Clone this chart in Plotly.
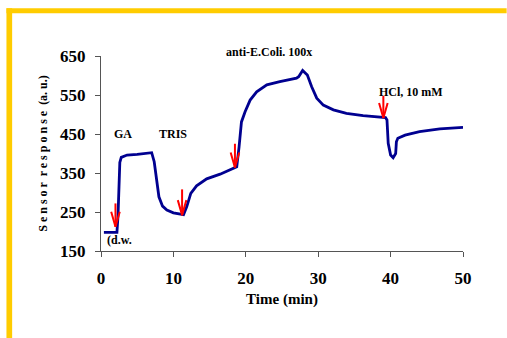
import plotly.graph_objects as go

# Sensor trace (time in min, response in a.u.)
time_min = [0.4, 2.2, 2.35, 2.5, 2.6, 2.8, 3.6, 5.0, 7.0, 7.35, 7.7, 8.0, 8.5, 9.1, 10.0, 11.0, 11.4,
            11.85, 12.4, 13.2, 14.6, 16.45, 18.3, 18.75, 19.07, 19.4, 19.9, 20.6, 21.5, 22.9, 24.7,
            27.0, 27.3, 27.85, 28.5, 29.1, 29.8, 30.7, 32.1, 33.9, 36.2, 38.5, 39.3,
            39.5, 39.67, 40.0, 40.35, 40.7, 40.8, 41.0, 42.0, 44.0, 46.8, 50.0]
response = [198, 198, 240, 337, 377, 390, 396, 398, 402, 379, 332, 289, 265, 255, 248, 245, 243,
            264, 298, 317, 335, 347, 362, 366, 417, 481, 507, 537, 558, 576, 584,
            593, 597, 613, 601, 571, 542, 524, 512, 503, 497, 493, 492,
            486, 426, 396, 389, 400, 430, 439, 447, 456, 463, 467]

# Injection arrows (time, top value, tip value)
arrow_t = [2.0, 11.2, 18.5, 39.0]
arrow_top = [272, 308, 425, 548]
arrow_tip = [212, 242, 364, 491]

# Labels (anchor value, extra upward shift in px for labels above the axis range)
label_text = ["GA", "TRIS", "anti-E.Coli. 100x", "HCl, 10 mM", "(d.w."]
label_t = [3.1, 10.0, 23.2, 42.8, 2.5]
label_y = [450, 450, 640, 558, 178]
label_shift = [0, 0, 8, 0, 0]

x_ticks = [0, 10, 20, 30, 40, 50]
y_ticks = [150, 250, 350, 450, 550, 650]

W, H = 507, 338
ML, MR, MT, MB = 100.7, 43.7, 56, 87
PW, PH = W - ML - MR, H - MT - MB
XMIN, XMAX, YMIN, YMAX = 0, 50, 150, 650

fig = go.Figure()
fig.add_trace(go.Scatter(x=time_min, y=response, mode="lines",
                         line=dict(color="#000090", width=2.8), hoverinfo="skip", showlegend=False))

# arrows drawn as shaft + open V head
arm_dx = 4.3 / PW * (XMAX - XMIN)
arm_dy = 15 / PH * (YMAX - YMIN)
ax, ay = [], []
for t, top, tip in zip(arrow_t, arrow_top, arrow_tip):
    ax += [t, t, None, t - arm_dx, t, t + arm_dx, None]
    ay += [top, tip, None, tip + arm_dy, tip, tip + arm_dy, None]
fig.add_trace(go.Scatter(x=ax, y=ay, mode="lines", line=dict(color="#FF0000", width=2),
                         hoverinfo="skip", showlegend=False))

for txt, t, y, s in zip(label_text, label_t, label_y, label_shift):
    fig.add_annotation(x=t, y=y, yshift=s, text=f"<b>{txt}</b>", showarrow=False,
                       font=dict(family="Liberation Serif", size=12, color="#000000"))

# yellow frame (top and left bars)
def px_x(p):
    return (p - ML) / PW
def px_y(p):
    return 1 - (p - MT) / PH
fig.add_shape(type="rect", xref="paper", yref="paper", x0=px_x(6), x1=px_x(507), y0=px_y(13.3), y1=px_y(8.3),
              fillcolor="#FFCC00", line=dict(width=0), layer="below")
fig.add_shape(type="rect", xref="paper", yref="paper", x0=px_x(6), x1=px_x(11.7), y0=px_y(338), y1=px_y(8.3),
              fillcolor="#FFCC00", line=dict(width=0), layer="below")

axis_font = dict(family="Liberation Serif", size=17, color="#000000")
fig.update_xaxes(range=[XMIN, XMAX], tickvals=x_ticks, ticktext=[f"<b>{v}</b>" for v in x_ticks],
                 showgrid=False, zeroline=False, showline=True, linecolor="#555555", linewidth=1,
                 ticks="outside", ticklen=5, tickcolor="#555555", tickfont=axis_font,
                 ticklabelstandoff=7,
                 title=dict(text="<b>Time (min)</b>", font=dict(family="Liberation Serif", size=15, color="#000"),
                            standoff=6))
fig.update_yaxes(range=[YMIN, YMAX], tickvals=y_ticks, ticktext=[f"<b>{v}</b>" for v in y_ticks],
                 showgrid=False, zeroline=False, showline=True, linecolor="#555555", linewidth=1,
                 ticks="outside", ticklen=5, tickcolor="#555555", tickfont=axis_font,
                 ticklabelstandoff=6,
                 title=dict(text="<b>S e n s o r  r e s p o n s e  (a. u.)</b>",
                            font=dict(family="Liberation Serif", size=12, color="#000"), standoff=9))

fig.update_layout(width=W, height=H, margin=dict(l=ML, r=MR, t=MT, b=MB),
                  paper_bgcolor="white", plot_bgcolor="white")

fig.write_html("out.html")
